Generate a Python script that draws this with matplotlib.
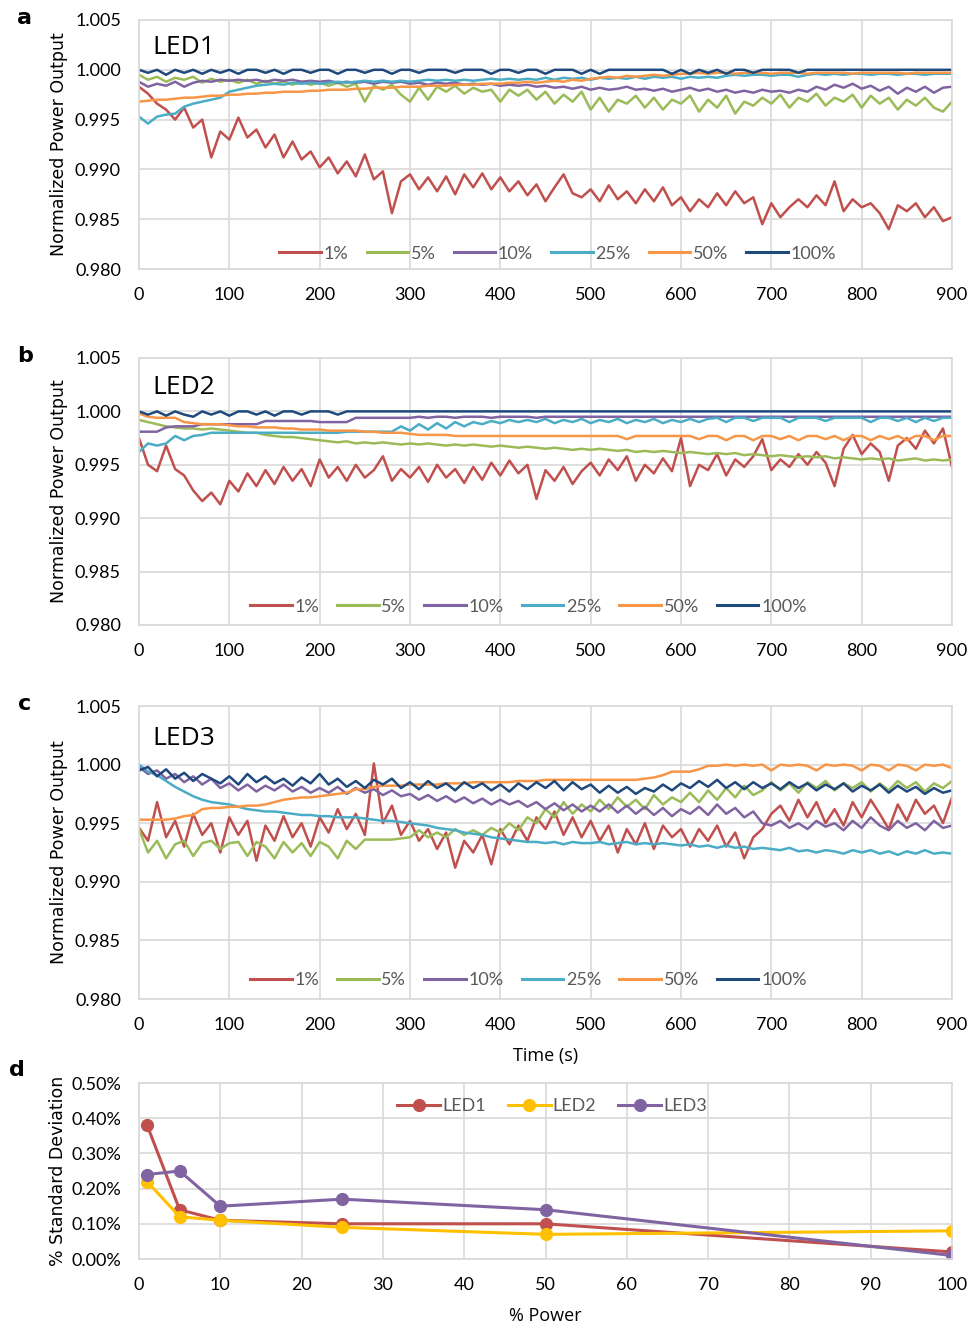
import numpy as np
import matplotlib
matplotlib.use("Agg")
import matplotlib.pyplot as plt
from matplotlib.ticker import FuncFormatter

# ---------------- data ----------------
time_s = list(range(0, 901, 10))
series_labels = ["1%", "5%", "10%", "25%", "50%", "100%"]
series_colors = ["#C0504D", "#9BBB59", "#8064A2", "#4BACC6", "#F79646", "#1F497D"]

# LED1
led1_p1 = [0.9983, 0.9976, 0.9966, 0.9960, 0.9950, 0.9962, 0.9942, 0.9950, 0.9912, 0.9938,
           0.9930, 0.9952, 0.9932, 0.9940, 0.9922, 0.9935, 0.9912, 0.9928, 0.9910, 0.9918,
           0.9902, 0.9912, 0.9896, 0.9908, 0.9893, 0.9915, 0.9890, 0.9898, 0.9856, 0.9888,
           0.9895, 0.9880, 0.9892, 0.9878, 0.9893, 0.9875, 0.9895, 0.9882, 0.9896, 0.9880,
           0.9892, 0.9878, 0.9888, 0.9874, 0.9885, 0.9868, 0.9882, 0.9895, 0.9876, 0.9872,
           0.9880, 0.9868, 0.9884, 0.9870, 0.9878, 0.9866, 0.9880, 0.9868, 0.9882, 0.9864,
           0.9872, 0.9858, 0.9870, 0.9862, 0.9876, 0.9864, 0.9878, 0.9866, 0.9872, 0.9845,
           0.9866, 0.9852, 0.9862, 0.9870, 0.9862, 0.9874, 0.9864, 0.9888, 0.9858, 0.9870,
           0.9862, 0.9866, 0.9856, 0.9840, 0.9864, 0.9858, 0.9866, 0.9852, 0.9862, 0.9848,
           0.9852]
led1_p5 = [0.9995, 0.9990, 0.9993, 0.9988, 0.9992, 0.9990, 0.9993, 0.9987, 0.9991, 0.9988,
           0.9990, 0.9987, 0.9990, 0.9986, 0.9989, 0.9986, 0.9988, 0.9985, 0.9988, 0.9985,
           0.9987, 0.9984, 0.9987, 0.9983, 0.9986, 0.9968, 0.9984, 0.9980, 0.9985, 0.9975,
           0.9968, 0.9982, 0.9970, 0.9983, 0.9978, 0.9984, 0.9976, 0.9982, 0.9978, 0.9980,
           0.9968, 0.9980, 0.9974, 0.9980, 0.9970, 0.9978, 0.9966, 0.9975, 0.9968, 0.9978,
           0.9960, 0.9972, 0.9958, 0.9970, 0.9966, 0.9974, 0.9962, 0.9972, 0.9960, 0.9970,
           0.9966, 0.9974, 0.9958, 0.9970, 0.9962, 0.9974, 0.9956, 0.9968, 0.9964, 0.9972,
           0.9966, 0.9975, 0.9962, 0.9972, 0.9968, 0.9976, 0.9964, 0.9972, 0.9968, 0.9975,
           0.9962, 0.9974, 0.9966, 0.9972, 0.9960, 0.9970, 0.9964, 0.9972, 0.9962, 0.9958,
           0.9968]
led1_p10 = [0.9988, 0.9983, 0.9986, 0.9984, 0.9988, 0.9983, 0.9987, 0.9989, 0.9988, 0.9990,
            0.9989, 0.9990, 0.9989, 0.9990, 0.9988, 0.9990, 0.9989, 0.9990, 0.9988, 0.9989,
            0.9988, 0.9989, 0.9987, 0.9988, 0.9987, 0.9988, 0.9986, 0.9988, 0.9987, 0.9988,
            0.9986, 0.9987, 0.9985, 0.9987, 0.9986, 0.9987, 0.9985, 0.9986, 0.9985, 0.9986,
            0.9984, 0.9985, 0.9984, 0.9985, 0.9983, 0.9984, 0.9982, 0.9983, 0.9981, 0.9983,
            0.9980, 0.9982, 0.9980, 0.9981, 0.9983, 0.9980, 0.9981, 0.9979, 0.9981, 0.9978,
            0.9980, 0.9982, 0.9979, 0.9981, 0.9978, 0.9980, 0.9977, 0.9979, 0.9977, 0.9980,
            0.9978, 0.9979, 0.9977, 0.9980, 0.9978, 0.9983, 0.9980, 0.9985, 0.9982, 0.9986,
            0.9981, 0.9984, 0.9979, 0.9983, 0.9976, 0.9982, 0.9978, 0.9983, 0.9977, 0.9982,
            0.9983]
led1_p25 = [0.9953, 0.9946, 0.9953, 0.9955, 0.9956, 0.9963, 0.9966, 0.9968, 0.9970, 0.9972,
            0.9978, 0.9980, 0.9982, 0.9984, 0.9985, 0.9986, 0.9985, 0.9987, 0.9986, 0.9987,
            0.9986, 0.9987, 0.9988, 0.9987, 0.9988, 0.9989, 0.9988, 0.9989, 0.9988, 0.9989,
            0.9988, 0.9989, 0.9990, 0.9989, 0.9990, 0.9989, 0.9990, 0.9989, 0.9990, 0.9991,
            0.9990, 0.9991, 0.9990, 0.9991, 0.9990, 0.9992, 0.9990, 0.9992, 0.9991, 0.9992,
            0.9990, 0.9992, 0.9991, 0.9992, 0.9991, 0.9993, 0.9991, 0.9993, 0.9992, 0.9993,
            0.9991, 0.9993, 0.9992, 0.9993, 0.9992, 0.9994, 0.9995, 0.9994, 0.9995, 0.9995,
            0.9994, 0.9995, 0.9995, 0.9993, 0.9995, 0.9996, 0.9995, 0.9996, 0.9995, 0.9996,
            0.9996, 0.9995, 0.9996, 0.9996, 0.9995, 0.9996, 0.9996, 0.9995, 0.9996, 0.9996,
            0.9996]
led1_p50 = [0.9968, 0.9969, 0.9970, 0.9970, 0.9971, 0.9972, 0.9972, 0.9973, 0.9974, 0.9974,
            0.9975, 0.9975, 0.9976, 0.9976, 0.9977, 0.9977, 0.9978, 0.9978, 0.9978, 0.9979,
            0.9979, 0.9980, 0.9980, 0.9980, 0.9981, 0.9981, 0.9982, 0.9982, 0.9982, 0.9983,
            0.9983, 0.9983, 0.9984, 0.9984, 0.9984, 0.9985, 0.9985, 0.9985, 0.9986, 0.9986,
            0.9986, 0.9987, 0.9987, 0.9988, 0.9987, 0.9988, 0.9989, 0.9988, 0.9990, 0.9989,
            0.9991, 0.9992, 0.9993, 0.9992, 0.9994, 0.9993, 0.9994, 0.9995, 0.9994, 0.9995,
            0.9996, 0.9996, 0.9997, 0.9996, 0.9997, 0.9997, 0.9996, 0.9997, 0.9997, 0.9997,
            0.9996, 0.9997, 0.9997, 0.9997, 0.9996, 0.9997, 0.9997, 0.9997, 0.9997, 0.9996,
            0.9997, 0.9997, 0.9997, 0.9997, 0.9997, 0.9996, 0.9997, 0.9997, 0.9997, 0.9997,
            0.9997]
led1_p100 = [1.0000, 0.9997, 1.0000, 0.9995, 1.0000, 0.9997, 1.0000, 0.9996, 1.0000, 0.9997,
             1.0000, 0.9996, 1.0000, 1.0000, 0.9997, 1.0000, 0.9996, 1.0000, 1.0000, 0.9997,
             1.0000, 1.0000, 0.9996, 1.0000, 1.0000, 0.9997, 1.0000, 1.0000, 0.9996, 1.0000,
             1.0000, 0.9997, 1.0000, 1.0000, 1.0000, 0.9997, 1.0000, 1.0000, 1.0000, 0.9996,
             1.0000, 1.0000, 0.9997, 1.0000, 1.0000, 0.9996, 1.0000, 1.0000, 1.0000, 0.9996,
             1.0000, 0.9996, 1.0000, 1.0000, 1.0000, 1.0000, 1.0000, 1.0000, 1.0000, 0.9996,
             1.0000, 0.9996, 1.0000, 0.9997, 1.0000, 0.9996, 1.0000, 1.0000, 0.9997, 1.0000,
             1.0000, 1.0000, 1.0000, 0.9997, 1.0000, 1.0000, 1.0000, 1.0000, 1.0000, 1.0000,
             1.0000, 1.0000, 1.0000, 1.0000, 1.0000, 1.0000, 1.0000, 1.0000, 1.0000, 1.0000,
             1.0000]

# LED2
led2_p1 = [0.9975, 0.9950, 0.9944, 0.9968, 0.9946, 0.9940, 0.9926, 0.9916, 0.9924, 0.9913,
           0.9935, 0.9925, 0.9942, 0.9930, 0.9945, 0.9932, 0.9948, 0.9935, 0.9946, 0.9930,
           0.9955, 0.9938, 0.9948, 0.9935, 0.9950, 0.9938, 0.9945, 0.9958, 0.9935, 0.9946,
           0.9938, 0.9948, 0.9934, 0.9950, 0.9938, 0.9946, 0.9933, 0.9948, 0.9936, 0.9952,
           0.9940, 0.9954, 0.9942, 0.9950, 0.9918, 0.9945, 0.9935, 0.9948, 0.9932, 0.9944,
           0.9952, 0.9940, 0.9955, 0.9945, 0.9958, 0.9935, 0.9950, 0.9942, 0.9956, 0.9944,
           0.9975, 0.9930, 0.9950, 0.9945, 0.9960, 0.9940, 0.9955, 0.9948, 0.9958, 0.9974,
           0.9945, 0.9955, 0.9948, 0.9960, 0.9950, 0.9962, 0.9952, 0.9930, 0.9965, 0.9978,
           0.9960, 0.9970, 0.9962, 0.9935, 0.9968, 0.9975, 0.9965, 0.9982, 0.9970, 0.9984,
           0.9948]
led2_p5 = [0.9992, 0.9990, 0.9988, 0.9986, 0.9985, 0.9984, 0.9984, 0.9983, 0.9984, 0.9983,
           0.9982, 0.9981, 0.9980, 0.9980, 0.9978, 0.9977, 0.9976, 0.9976, 0.9975, 0.9974,
           0.9973, 0.9972, 0.9971, 0.9972, 0.9970, 0.9971, 0.9970, 0.9971, 0.9970, 0.9969,
           0.9970, 0.9969, 0.9970, 0.9969, 0.9968, 0.9969, 0.9968, 0.9969, 0.9968, 0.9967,
           0.9968, 0.9967, 0.9966, 0.9967, 0.9966, 0.9965, 0.9966, 0.9965, 0.9964, 0.9965,
           0.9964, 0.9965, 0.9964, 0.9963, 0.9964, 0.9962, 0.9963, 0.9962, 0.9963, 0.9962,
           0.9961, 0.9962, 0.9961, 0.9960, 0.9961, 0.9960, 0.9961, 0.9959, 0.9960, 0.9959,
           0.9958, 0.9959, 0.9958, 0.9957, 0.9958, 0.9957, 0.9958, 0.9956, 0.9957, 0.9956,
           0.9955, 0.9956, 0.9955, 0.9956, 0.9954, 0.9955, 0.9956, 0.9954, 0.9955, 0.9954,
           0.9955]
led2_p10 = [0.9981, 0.9981, 0.9981, 0.9985, 0.9986, 0.9986, 0.9986, 0.9988, 0.9988, 0.9988,
            0.9988, 0.9988, 0.9988, 0.9988, 0.9991, 0.9991, 0.9991, 0.9991, 0.9991, 0.9991,
            0.9990, 0.9990, 0.9990, 0.9990, 0.9994, 0.9994, 0.9994, 0.9994, 0.9994, 0.9994,
            0.9994, 0.9995, 0.9994, 0.9995, 0.9995, 0.9994, 0.9995, 0.9995, 0.9995, 0.9994,
            0.9995, 0.9995, 0.9995, 0.9995, 0.9994, 0.9995, 0.9995, 0.9995, 0.9995, 0.9995,
            0.9995, 0.9995, 0.9995, 0.9995, 0.9995, 0.9995, 0.9995, 0.9995, 0.9995, 0.9995,
            0.9995, 0.9995, 0.9995, 0.9995, 0.9995, 0.9995, 0.9995, 0.9995, 0.9995, 0.9995,
            0.9995, 0.9995, 0.9995, 0.9995, 0.9995, 0.9995, 0.9995, 0.9995, 0.9995, 0.9995,
            0.9995, 0.9995, 0.9995, 0.9995, 0.9995, 0.9995, 0.9995, 0.9995, 0.9995, 0.9995,
            0.9995]
led2_p25 = [0.9962, 0.9970, 0.9968, 0.9970, 0.9977, 0.9973, 0.9977, 0.9978, 0.9980, 0.9980,
            0.9980, 0.9980, 0.9980, 0.9980, 0.9980, 0.9980, 0.9980, 0.9980, 0.9980, 0.9980,
            0.9980, 0.9980, 0.9980, 0.9981, 0.9981, 0.9981, 0.9981, 0.9981, 0.9981, 0.9986,
            0.9982, 0.9988, 0.9983, 0.9989, 0.9984, 0.9990, 0.9986, 0.9990, 0.9988, 0.9991,
            0.9989, 0.9992, 0.9990, 0.9992, 0.9990, 0.9993, 0.9989, 0.9992, 0.9990, 0.9993,
            0.9989, 0.9992, 0.9990, 0.9993, 0.9989, 0.9992, 0.9990, 0.9993, 0.9989, 0.9992,
            0.9990, 0.9993, 0.9990, 0.9993, 0.9994, 0.9990, 0.9994, 0.9994, 0.9991, 0.9994,
            0.9994, 0.9994, 0.9990, 0.9994, 0.9994, 0.9994, 0.9991, 0.9994, 0.9994, 0.9994,
            0.9994, 0.9990, 0.9994, 0.9994, 0.9991, 0.9994, 0.9990, 0.9994, 0.9991, 0.9994,
            0.9994]
led2_p50 = [0.9998, 0.9995, 0.9994, 0.9994, 0.9994, 0.9990, 0.9989, 0.9988, 0.9988, 0.9988,
            0.9987, 0.9986, 0.9986, 0.9985, 0.9985, 0.9985, 0.9984, 0.9984, 0.9983, 0.9983,
            0.9983, 0.9982, 0.9982, 0.9982, 0.9982, 0.9981, 0.9981, 0.9980, 0.9980, 0.9980,
            0.9979, 0.9978, 0.9978, 0.9978, 0.9978, 0.9977, 0.9977, 0.9977, 0.9977, 0.9977,
            0.9977, 0.9977, 0.9977, 0.9977, 0.9977, 0.9977, 0.9977, 0.9977, 0.9977, 0.9977,
            0.9977, 0.9977, 0.9977, 0.9977, 0.9974, 0.9977, 0.9977, 0.9977, 0.9977, 0.9977,
            0.9977, 0.9977, 0.9974, 0.9977, 0.9977, 0.9973, 0.9977, 0.9977, 0.9973, 0.9977,
            0.9977, 0.9974, 0.9977, 0.9973, 0.9977, 0.9977, 0.9974, 0.9977, 0.9973, 0.9977,
            0.9977, 0.9973, 0.9977, 0.9974, 0.9977, 0.9973, 0.9977, 0.9977, 0.9973, 0.9977,
            0.9977]
led2_p100 = [1.0000, 0.9997, 1.0000, 0.9996, 1.0000, 0.9997, 0.9995, 1.0000, 0.9997, 1.0000,
             0.9996, 1.0000, 1.0000, 0.9997, 1.0000, 0.9996, 1.0000, 1.0000, 0.9997, 1.0000,
             1.0000, 1.0000, 0.9997, 1.0000, 1.0000, 1.0000, 1.0000, 1.0000, 1.0000, 1.0000,
             1.0000, 1.0000, 1.0000, 1.0000, 1.0000, 1.0000, 1.0000, 1.0000, 1.0000, 1.0000,
             1.0000, 1.0000, 1.0000, 1.0000, 1.0000, 1.0000, 1.0000, 1.0000, 1.0000, 1.0000,
             1.0000, 1.0000, 1.0000, 1.0000, 1.0000, 1.0000, 1.0000, 1.0000, 1.0000, 1.0000,
             1.0000, 1.0000, 1.0000, 1.0000, 1.0000, 1.0000, 1.0000, 1.0000, 1.0000, 1.0000,
             1.0000, 1.0000, 1.0000, 1.0000, 1.0000, 1.0000, 1.0000, 1.0000, 1.0000, 1.0000,
             1.0000, 1.0000, 1.0000, 1.0000, 1.0000, 1.0000, 1.0000, 1.0000, 1.0000, 1.0000,
             1.0000]

# LED3
led3_p1 = [0.9946, 0.9935, 0.9968, 0.9938, 0.9952, 0.9930, 0.9958, 0.9940, 0.9950, 0.9925,
           0.9955, 0.9940, 0.9952, 0.9918, 0.9948, 0.9935, 0.9956, 0.9938, 0.9950, 0.9930,
           0.9955, 0.9942, 0.9962, 0.9945, 0.9958, 0.9940, 1.0001, 0.9950, 0.9965, 0.9940,
           0.9952, 0.9935, 0.9945, 0.9928, 0.9942, 0.9912, 0.9935, 0.9925, 0.9940, 0.9915,
           0.9945, 0.9932, 0.9948, 0.9935, 0.9955, 0.9945, 0.9960, 0.9940, 0.9955, 0.9938,
           0.9952, 0.9935, 0.9948, 0.9925, 0.9945, 0.9932, 0.9950, 0.9928, 0.9948, 0.9938,
           0.9945, 0.9930, 0.9945, 0.9935, 0.9948, 0.9930, 0.9942, 0.9920, 0.9938, 0.9945,
           0.9958, 0.9965, 0.9952, 0.9970, 0.9955, 0.9968, 0.9950, 0.9962, 0.9948, 0.9968,
           0.9955, 0.9970, 0.9958, 0.9945, 0.9966, 0.9952, 0.9970, 0.9958, 0.9965, 0.9950,
           0.9972]
led3_p5 = [0.9945, 0.9925, 0.9935, 0.9920, 0.9932, 0.9935, 0.9922, 0.9933, 0.9935, 0.9928,
           0.9933, 0.9934, 0.9922, 0.9934, 0.9930, 0.9920, 0.9934, 0.9925, 0.9933, 0.9922,
           0.9934, 0.9930, 0.9920, 0.9935, 0.9928, 0.9936, 0.9936, 0.9936, 0.9936, 0.9937,
           0.9938, 0.9944, 0.9938, 0.9942, 0.9938, 0.9945, 0.9940, 0.9944, 0.9940, 0.9946,
           0.9942, 0.9950, 0.9944, 0.9955, 0.9950, 0.9962, 0.9955, 0.9968, 0.9958, 0.9966,
           0.9960, 0.9970, 0.9962, 0.9972, 0.9964, 0.9970, 0.9962, 0.9974, 0.9966, 0.9972,
           0.9968, 0.9976, 0.9968, 0.9978, 0.9970, 0.9980, 0.9972, 0.9982, 0.9974, 0.9978,
           0.9985, 0.9978, 0.9984, 0.9976, 0.9985, 0.9980, 0.9986, 0.9978, 0.9984, 0.9980,
           0.9985, 0.9977, 0.9984, 0.9978, 0.9986, 0.9980, 0.9985, 0.9977, 0.9984, 0.9980,
           0.9986]
led3_p10 = [0.9998, 0.9992, 0.9995, 0.9988, 0.9992, 0.9985, 0.9990, 0.9983, 0.9988, 0.9980,
            0.9984, 0.9978, 0.9983, 0.9977, 0.9982, 0.9978, 0.9983, 0.9977, 0.9981, 0.9976,
            0.9980, 0.9976, 0.9981, 0.9975, 0.9980, 0.9976, 0.9979, 0.9974, 0.9978, 0.9973,
            0.9975, 0.9970, 0.9974, 0.9969, 0.9973, 0.9968, 0.9972, 0.9967, 0.9971, 0.9966,
            0.9970, 0.9966, 0.9969, 0.9964, 0.9968, 0.9962, 0.9967, 0.9961, 0.9966, 0.9960,
            0.9965, 0.9960, 0.9966, 0.9959, 0.9965, 0.9958, 0.9964, 0.9957, 0.9963, 0.9956,
            0.9962, 0.9958, 0.9964, 0.9957, 0.9966, 0.9958, 0.9963, 0.9955, 0.9960, 0.9950,
            0.9948, 0.9952, 0.9946, 0.9950, 0.9945, 0.9952, 0.9947, 0.9950, 0.9944, 0.9952,
            0.9946, 0.9955, 0.9948, 0.9944, 0.9952, 0.9946, 0.9950, 0.9944, 0.9952, 0.9946,
            0.9948]
led3_p25 = [1.0000, 0.9994, 0.9991, 0.9986, 0.9981, 0.9977, 0.9973, 0.9970, 0.9968, 0.9967,
            0.9966, 0.9964, 0.9962, 0.9961, 0.9960, 0.9960, 0.9959, 0.9958, 0.9957, 0.9957,
            0.9956, 0.9956, 0.9955, 0.9955, 0.9955, 0.9954, 0.9953, 0.9952, 0.9952, 0.9951,
            0.9950, 0.9949, 0.9948, 0.9946, 0.9945, 0.9944, 0.9942, 0.9941, 0.9940, 0.9938,
            0.9937, 0.9936, 0.9935, 0.9934, 0.9934, 0.9933, 0.9934, 0.9932, 0.9934, 0.9933,
            0.9933, 0.9934, 0.9932, 0.9933, 0.9934, 0.9932, 0.9933, 0.9932, 0.9933, 0.9932,
            0.9931, 0.9932, 0.9930, 0.9931, 0.9929, 0.9931, 0.9929, 0.9930, 0.9928, 0.9929,
            0.9928, 0.9927, 0.9929, 0.9926, 0.9927, 0.9925, 0.9927, 0.9926, 0.9924, 0.9927,
            0.9925, 0.9927, 0.9924, 0.9926, 0.9923, 0.9926, 0.9924, 0.9927, 0.9924, 0.9925,
            0.9924]
led3_p50 = [0.9953, 0.9953, 0.9953, 0.9953, 0.9954, 0.9956, 0.9957, 0.9962, 0.9963, 0.9963,
            0.9964, 0.9964, 0.9965, 0.9965, 0.9966, 0.9968, 0.9970, 0.9971, 0.9972, 0.9972,
            0.9973, 0.9974, 0.9975, 0.9976, 0.9979, 0.9979, 0.9981, 0.9982, 0.9982, 0.9982,
            0.9983, 0.9983, 0.9983, 0.9983, 0.9984, 0.9984, 0.9984, 0.9985, 0.9985, 0.9985,
            0.9985, 0.9985, 0.9986, 0.9986, 0.9986, 0.9987, 0.9987, 0.9987, 0.9987, 0.9987,
            0.9987, 0.9987, 0.9987, 0.9987, 0.9987, 0.9987, 0.9988, 0.9989, 0.9991, 0.9994,
            0.9994, 0.9994, 0.9996, 0.9999, 0.9999, 1.0000, 0.9999, 1.0000, 0.9999, 1.0000,
            0.9995, 1.0000, 0.9999, 1.0000, 0.9999, 0.9995, 1.0000, 0.9999, 1.0000, 0.9999,
            0.9995, 1.0000, 0.9999, 0.9995, 1.0000, 0.9999, 0.9995, 1.0000, 0.9999, 1.0000,
            0.9997]
led3_p100 = [0.9995, 0.9998, 0.9990, 0.9996, 0.9988, 0.9993, 0.9986, 0.9992, 0.9988, 0.9984,
             0.9990, 0.9983, 0.9992, 0.9985, 0.9990, 0.9984, 0.9988, 0.9982, 0.9989, 0.9984,
             0.9992, 0.9983, 0.9988, 0.9981, 0.9986, 0.9980, 0.9987, 0.9983, 0.9988, 0.9980,
             0.9985, 0.9979, 0.9986, 0.9980, 0.9984, 0.9978, 0.9985, 0.9980, 0.9984, 0.9978,
             0.9983, 0.9977, 0.9984, 0.9979, 0.9985, 0.9980, 0.9986, 0.9978, 0.9985, 0.9979,
             0.9983, 0.9976, 0.9982, 0.9976, 0.9981, 0.9975, 0.9980, 0.9977, 0.9983, 0.9978,
             0.9984, 0.9980, 0.9986, 0.9981, 0.9987, 0.9980, 0.9985, 0.9979, 0.9985, 0.9980,
             0.9984, 0.9979, 0.9985, 0.9980, 0.9984, 0.9978, 0.9983, 0.9979, 0.9984, 0.9977,
             0.9982, 0.9978, 0.9983, 0.9976, 0.9982, 0.9977, 0.9981, 0.9975, 0.9980, 0.9976,
             0.9978]

led1_series = [led1_p1, led1_p5, led1_p10, led1_p25, led1_p50, led1_p100]
led2_series = [led2_p1, led2_p5, led2_p10, led2_p25, led2_p50, led2_p100]
led3_series = [led3_p1, led3_p5, led3_p10, led3_p25, led3_p50, led3_p100]

# Panel d
power_pct = [1, 5, 10, 25, 50, 100]
std_led1 = [0.38, 0.14, 0.11, 0.10, 0.10, 0.02]
std_led2 = [0.22, 0.12, 0.11, 0.09, 0.07, 0.08]
std_led3 = [0.24, 0.25, 0.15, 0.17, 0.14, 0.01]
std_colors = ["#C0504D", "#FFC000", "#8064A2"]
std_labels = ["LED1", "LED2", "LED3"]

# ---------------- figure ----------------
W, H = 979, 1324
fig = plt.figure(figsize=(W / 100, H / 100), dpi=100)

def frac(x0, y_top, x1, y_bot):
    return [x0 / W, 1 - y_bot / H, (x1 - x0) / W, (y_bot - y_top) / H]

GRID = "#D9D9D9"
TICKFONT = "Lato"

def style_axes(ax):
    for s in ax.spines.values():
        s.set_color(GRID)
        s.set_linewidth(1.2)
    ax.tick_params(length=0, labelsize=13, colors="black")
    ax.tick_params(axis="x", pad=13)
    ax.tick_params(axis="y", pad=13)
    for lab in ax.get_xticklabels() + ax.get_yticklabels():
        lab.set_fontfamily(TICKFONT)
    ax.grid(True, color=GRID, linewidth=1.2)
    ax.set_axisbelow(True)

# letter, title, series, rect(px), legend x-center, legend y-offset
panels = [
    ("a", "LED1", led1_series, (139, 20, 952, 269), 0.515, 0.0),
    ("b", "LED2", led2_series, (139, 358, 952, 625), 0.479, 0.012),
    ("c", "LED3", led3_series, (139, 706, 952, 999), 0.479, 0.012),
]

for letter, title, series, px, lx, ly in panels:
    ax = fig.add_axes(frac(*px))
    for vals, lab, col in zip(series, series_labels, series_colors):
        ax.plot(time_s, vals, color=col, lw=1.8, label=lab)
    ax.set_xlim(0, 900)
    ax.set_ylim(0.980, 1.005)
    ax.set_xticks(range(0, 901, 100))
    ax.set_yticks(np.arange(0.980, 1.0051, 0.005))
    ax.yaxis.set_major_formatter(FuncFormatter(lambda v, p: f"{v:.3f}"))
    style_axes(ax)
    ax.set_ylabel("Normalized Power Output", fontsize=12.5, family="DejaVu Sans", labelpad=5)
    ax.text(0.017, 0.89, title, transform=ax.transAxes, fontsize=19, family="Open Sans",
            va="center", ha="left")
    leg = ax.legend(loc="lower center", bbox_to_anchor=(lx, ly), borderaxespad=0, ncol=6,
                    frameon=False, handlelength=2.3, handletextpad=0.15, columnspacing=1.0,
                    prop={"family": TICKFONT, "size": 13})
    for t in leg.get_texts():
        t.set_color("#595959")
    for h in leg.get_lines():
        h.set_linewidth(2.2)
    fig.text(25 / W, 1 - (px[1] - 2) / H, letter,
             fontsize=16, fontweight="bold", ha="center", va="center")
    if letter == "c":
        ax.set_xlabel("Time (s)", fontsize=13, family="Open Sans", labelpad=10)

# panel d
axd = fig.add_axes(frac(139, 1083, 952, 1259))
for vals, lab, col in zip([std_led1, std_led2, std_led3], std_labels, std_colors):
    axd.plot(power_pct, vals, color=col, lw=2.2, marker="o", markersize=8.5, label=lab)
axd.set_xlim(0, 100)
axd.set_ylim(0, 0.50)
axd.set_xticks(range(0, 101, 10))
axd.set_yticks(np.arange(0, 0.501, 0.10))
axd.yaxis.set_major_formatter(FuncFormatter(lambda v, p: f"{v:.2f}%"))
style_axes(axd)
axd.set_ylabel("% Standard Deviation", fontsize=12.5, family="DejaVu Sans", labelpad=3)
axd.set_xlabel("% Power", fontsize=13, family="Open Sans", labelpad=10)
legd = axd.legend(loc="upper center", bbox_to_anchor=(0.508, 0.955), borderaxespad=0, ncol=3,
                  frameon=False, handlelength=2.4, handletextpad=0.1, columnspacing=1.2,
                  prop={"family": TICKFONT, "size": 13})
for t in legd.get_texts():
    t.set_color("#595959")
fig.text(17 / W, 1 - 1070 / H, "d", fontsize=16, fontweight="bold", ha="center", va="center")

fig.savefig("out.png", dpi=100)
